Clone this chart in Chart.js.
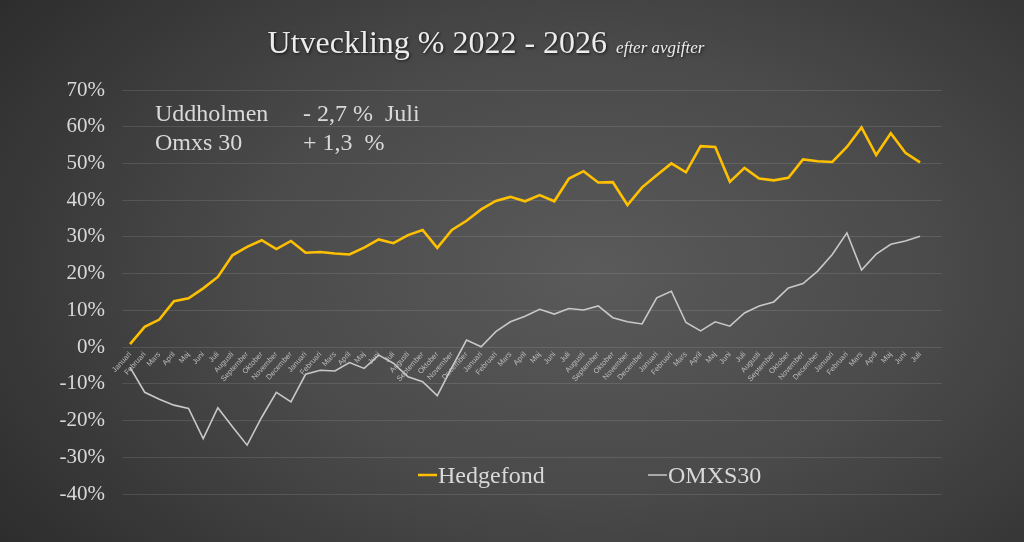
<!DOCTYPE html>
<html>
<head>
<meta charset="utf-8">
<script src="https://cdn.jsdelivr.net/npm/chart.js@4/dist/chart.umd.min.js"></script>
<style>
  html, body { margin: 0; padding: 0; overflow: hidden; }
  body { background: radial-gradient(ellipse 75% 90% at 58% 50%, #5a5a5a 0%, #4a4a4a 45%, #2a2a2a 100%); }
  #wrap { width: 1024px; height: 542px; position: relative; }
</style>
</head>
<body>
<div id="wrap"><canvas id="c"></canvas></div>
<script>
// manader jan 2022 - jul 2026
const months = [
  "Januari","Februari","Mars","April","Maj","Juni","Juli","Augusti","September","Oktober","November","December",
  "Januari","Februari","Mars","April","Maj","Juni","Juli","Augusti","September","Oktober","November","December",
  "Januari","Februari","Mars","April","Maj","Juni","Juli","Augusti","September","Oktober","November","December",
  "Januari","Februari","Mars","April","Maj","Juni","Juli","Augusti","September","Oktober","November","December",
  "Januari","Februari","Mars","April","Maj","Juni","Juli"
];

const hedgefond = [
  0.8, 5.5, 7.5, 12.5, 13.3, 16.0, 19.1, 25.0, 27.3, 29.1, 26.7, 28.9,
  25.7, 25.9, 25.5, 25.2, 27.1, 29.3, 28.3, 30.5, 31.9, 27.0, 31.9, 34.4,
  37.5, 39.8, 40.9, 39.7, 41.4, 39.7, 45.9, 47.9, 44.8, 44.9, 38.7, 43.5,
  46.8, 50.0, 47.6, 54.7, 54.5, 45.0, 48.8, 45.9, 45.4, 46.1, 51.1, 50.6,
  50.4, 54.5, 59.8, 52.3, 58.2, 52.9, 50.3
];

const omxs30 = [
  -5.5, -12.3, -14.2, -15.8, -16.7, -24.9, -16.5, -21.7, -26.7, -19.1, -12.3, -14.9,
  -7.4, -6.3, -6.5, -4.2, -5.8, -2.2, -4.4, -8.1, -9.4, -13.2, -5.5, 1.9,
  0.1, 4.2, 6.9, 8.4, 10.3, 9.0, 10.5, 10.1, 11.2, 8.0, 6.9, 6.3,
  13.4, 15.2, 6.7, 4.4, 6.9, 5.7, 9.3, 11.2, 12.3, 16.1, 17.3, 20.7,
  25.2, 31.1, 21.0, 25.3, 28.0, 28.9, 30.2
];

const seriesNames = ["Hedgefond", "OMXS30"];
const seriesColors = ["#ffc000", "#c8c8c8"];

const titleMain = "Utveckling % 2022 - 2026";
const titleSub = "efter avgifter";
const noteRows = [
  ["Uddholmen", "- 2,7 %  Juli"],
  ["Omxs 30", "+ 1,3  %"]
];

const serif = "'Liberation Serif', 'Times New Roman', serif";
const textColor = "#d9d9d9";

const toPoints = arr => arr.map((v, i) => ({ x: i, y: v }));

const textPlugin = {
  id: "texts",
  afterDraw(chart) {
    const ctx = chart.ctx;
    ctx.save();
    // titel
    ctx.textBaseline = "alphabetic";
    ctx.textAlign = "left";
    ctx.font = "32px " + serif;
    const w1 = ctx.measureText(titleMain).width;
    ctx.font = "italic 17px " + serif;
    const w2 = ctx.measureText(titleSub).width;
    const gap = 9;
    let tx = 486 - (w1 + gap + w2) / 2;
    ctx.shadowColor = "rgba(0,0,0,0.7)";
    ctx.shadowBlur = 3;
    ctx.shadowOffsetX = 1;
    ctx.shadowOffsetY = 1;
    ctx.fillStyle = "#ececec";
    ctx.font = "32px " + serif;
    ctx.fillText(titleMain, tx, 53);
    ctx.font = "italic 17px " + serif;
    ctx.fillText(titleSub, tx + w1 + gap, 53);
    ctx.shadowColor = "transparent";

    // kommentar i diagrammet
    ctx.fillStyle = textColor;
    ctx.font = "24px " + serif;
    noteRows.forEach((row, i) => {
      const y = 121 + i * 28.5;
      ctx.fillText(row[0], 155, y);
      ctx.fillText(row[1], 303, y);
    });

    // legend
    const lx = [418, 648];
    seriesNames.forEach((name, i) => {
      ctx.strokeStyle = seriesColors[i];
      ctx.lineWidth = i === 0 ? 2.5 : 1.5;
      ctx.beginPath();
      ctx.moveTo(lx[i], 475);
      ctx.lineTo(lx[i] + 19, 475);
      ctx.stroke();
      ctx.fillStyle = textColor;
      ctx.font = "24px " + serif;
      ctx.fillText(name, lx[i] + 20, 483);
    });
    ctx.restore();
  }
};

new Chart(document.getElementById("c"), {
  type: "line",
  data: {
    datasets: [
      {
        label: seriesNames[0],
        data: toPoints(hedgefond),
        borderColor: seriesColors[0],
        backgroundColor: seriesColors[0],
        borderWidth: 2.6,
        pointRadius: 0,
        tension: 0
      },
      {
        label: seriesNames[1],
        data: toPoints(omxs30),
        borderColor: seriesColors[1],
        backgroundColor: seriesColors[1],
        borderWidth: 1.6,
        pointRadius: 0,
        tension: 0
      }
    ]
  },
  options: {
    responsive: true,
    maintainAspectRatio: false,
    animation: false,
    layout: { padding: { top: 90, right: 82, bottom: 48, left: 0 } },
    plugins: {
      legend: { display: false },
      title: { display: false },
      tooltip: { enabled: false }
    },
    scales: {
      x: {
        type: "linear",
        position: { y: 0 },
        min: -0.55,
        max: 55.5,
        afterBuildTicks: scale => {
          scale.ticks = months.map((m, i) => ({ value: i }));
        },
        grid: { display: false, drawTicks: false },
        border: { display: false },
        ticks: {
          autoSkip: false,
          minRotation: 48,
          maxRotation: 48,
          padding: 3,
          color: "#bdbdbd",
          font: { family: "'Liberation Sans', Arial, sans-serif", size: 7.5 },
          callback: v => months[v]
        }
      },
      y: {
        min: -40,
        max: 70,
        afterFit: scale => { scale.width = 122; },
        grid: { color: "rgba(255,255,255,0.11)", lineWidth: 1, drawTicks: false },
        border: { display: false },
        ticks: {
          stepSize: 10,
          padding: 17,
          color: textColor,
          font: { family: serif, size: 21 },
          callback: v => v + "%"
        }
      }
    }
  },
  plugins: [textPlugin]
});
</script>
</body>
</html>
